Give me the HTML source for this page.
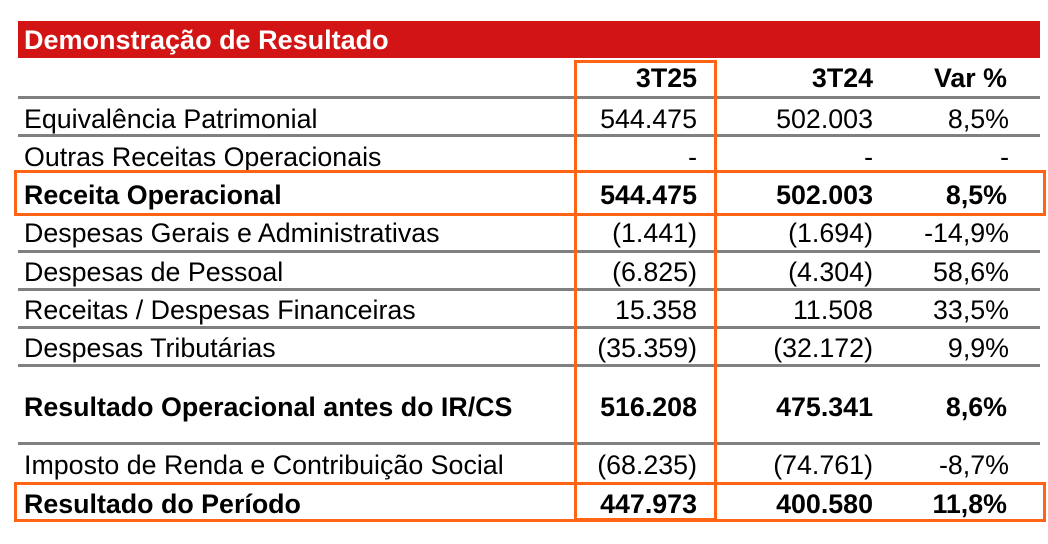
<!DOCTYPE html>
<html><head><meta charset="utf-8"><style>
body{margin:0;width:1048px;height:544px;background:#fff;position:relative;overflow:hidden;font-family:"Liberation Sans",Arial,sans-serif;color:#000}
.banner{position:absolute;left:18px;top:21px;width:1022px;height:37px;background:#d21414}
.banner span{position:absolute;left:6px;top:3px;color:#fff;font-weight:bold;font-size:27px;line-height:32px}
.g{position:absolute;left:18px;width:1022px;height:3px;background:#808080}
.t{position:absolute;font-size:26.8px;line-height:30px;white-space:nowrap}
.l{left:24px}
.r{text-align:right}
.b{font-weight:bold}
.o{position:absolute;border:3px solid #ff6414;box-sizing:border-box}
</style></head><body>
<div class="banner"><span>Demonstração de Resultado</span></div>
<div class="g" style="top:96px"></div>
<div class="g" style="top:134px"></div>
<div class="g" style="top:250px"></div>
<div class="g" style="top:288px"></div>
<div class="g" style="top:326px"></div>
<div class="g" style="top:364px"></div>
<div class="g" style="top:442px"></div>

<div class="t b r" style="top:63px;right:351px">3T25</div>
<div class="t b r" style="top:63px;right:175px">3T24</div>
<div class="t b r" style="top:63px;right:41px">Var %</div>

<div class="t l" style="top:104px">Equivalência Patrimonial</div>
<div class="t r" style="top:104px;right:351px">544.475</div>
<div class="t r" style="top:104px;right:175px">502.003</div>
<div class="t r" style="top:104px;right:39px">8,5%</div>

<div class="t l" style="top:142px">Outras Receitas Operacionais</div>
<div class="t r" style="top:142px;right:351px">-</div>
<div class="t r" style="top:142px;right:175px">-</div>
<div class="t r" style="top:142px;right:39px">-</div>

<div class="t l b" style="top:180px">Receita Operacional</div>
<div class="t r b" style="top:180px;right:351px">544.475</div>
<div class="t r b" style="top:180px;right:175px">502.003</div>
<div class="t r b" style="top:180px;right:41px">8,5%</div>

<div class="t l" style="top:218px">Despesas Gerais e Administrativas</div>
<div class="t r" style="top:218px;right:351px">(1.441)</div>
<div class="t r" style="top:218px;right:175px">(1.694)</div>
<div class="t r" style="top:218px;right:39px">-14,9%</div>

<div class="t l" style="top:257px">Despesas de Pessoal</div>
<div class="t r" style="top:257px;right:351px">(6.825)</div>
<div class="t r" style="top:257px;right:175px">(4.304)</div>
<div class="t r" style="top:257px;right:39px">58,6%</div>

<div class="t l" style="top:295px">Receitas / Despesas Financeiras</div>
<div class="t r" style="top:295px;right:351px">15.358</div>
<div class="t r" style="top:295px;right:175px">11.508</div>
<div class="t r" style="top:295px;right:39px">33,5%</div>

<div class="t l" style="top:333px">Despesas Tributárias</div>
<div class="t r" style="top:333px;right:351px">(35.359)</div>
<div class="t r" style="top:333px;right:175px">(32.172)</div>
<div class="t r" style="top:333px;right:39px">9,9%</div>

<div class="t l b" style="top:392px">Resultado Operacional antes do IR/CS</div>
<div class="t r b" style="top:392px;right:351px">516.208</div>
<div class="t r b" style="top:392px;right:175px">475.341</div>
<div class="t r b" style="top:392px;right:41px">8,6%</div>

<div class="t l" style="top:450px">Imposto de Renda e Contribuição Social</div>
<div class="t r" style="top:450px;right:351px">(68.235)</div>
<div class="t r" style="top:450px;right:175px">(74.761)</div>
<div class="t r" style="top:450px;right:39px">-8,7%</div>

<div class="t l b" style="top:489px">Resultado do Período</div>
<div class="t r b" style="top:489px;right:351px">447.973</div>
<div class="t r b" style="top:489px;right:175px">400.580</div>
<div class="t r b" style="top:489px;right:41px">11,8%</div>

<div class="o" style="left:574px;top:60px;width:143px;height:461px"></div>
<div class="o" style="left:14px;top:170px;width:1032px;height:46px"></div>
<div class="o" style="left:14px;top:482px;width:1032px;height:40px"></div>
</body></html>
